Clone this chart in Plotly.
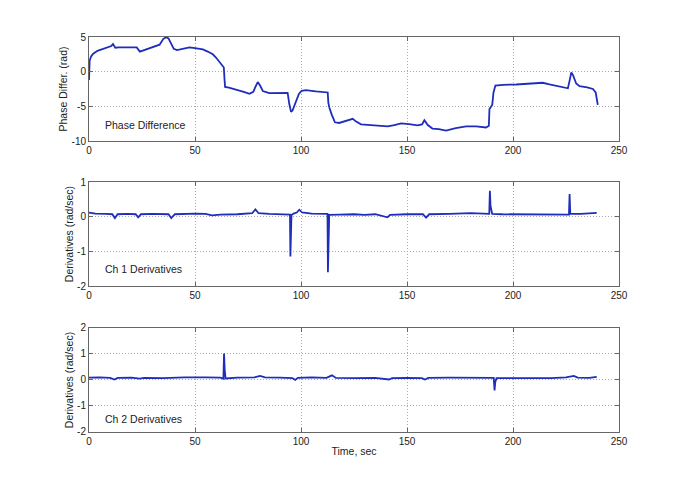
import plotly.graph_objects as go

# phase difference (rad) vs time (sec)
t_phase = [0, 0.3, 1, 2, 4,
           6.5, 9, 10.5, 11.3, 12.4,
           14, 18, 21, 22.5, 24,
           26, 28.6, 31, 33.3, 35,
           36.4, 37.5, 38.5, 40, 41.5,
           44, 47.4, 50, 53.7, 56,
           58.4, 60, 61.5, 63, 63.6,
           63.9, 64.2, 66, 70, 73,
           75.7, 77.5, 78.5, 79.6, 80.7,
           82, 85, 90, 93.7, 94.5,
           95.3, 96, 97.6, 99, 100.3,
           102.3, 107, 112.6, 112.9, 113.4,
           114.5, 116, 118, 120, 122.8,
           124.4, 126, 128.3, 133, 137,
           140.9, 144, 147.2, 151, 155,
           157.1, 158.2, 159.8, 162, 165,
           168.4, 173, 177.9, 182.6, 187.3,
           188.6, 188.9, 190.2, 190.8, 191.7,
           195.2, 201.5, 208, 214, 217.2,
           222, 225.9, 226.7, 227.5, 228.3,
           229.8, 231.4, 235, 237.7, 239,
           240]
phase = [-1.2, 1.6, 2.2, 2.6, 3.0,
         3.25, 3.5, 3.7, 4.0, 3.45,
         3.5, 3.5, 3.6, 3.5, 2.9,
         3.1, 3.4, 3.6, 3.9, 4.7,
         5.0, 4.8, 4.2, 3.3, 3.1,
         3.3, 3.5, 3.4, 3.2, 2.9,
         2.5, 2.0, 1.4, 0.9, 0.6,
         -1.0, -2.2, -2.3, -2.6, -2.9,
         -3.2, -2.9, -2.2, -1.5, -2.0,
         -2.8, -3.1, -3.1, -3.05, -4.7,
         -5.8, -5.6, -4.2, -3.2, -2.75,
         -2.65, -2.85, -3.0, -4.5, -5.2,
         -6.2, -7.3, -7.4, -7.2, -6.9,
         -6.8, -7.2, -7.6, -7.7, -7.75,
         -7.9, -7.7, -7.45, -7.55, -7.75,
         -7.6, -7.0, -7.7, -8.2, -8.3,
         -8.5, -8.15, -7.9, -7.9, -8.05,
         -7.8, -5.4, -4.8, -3.0, -2.0,
         -1.9, -1.85, -1.7, -1.6, -1.85,
         -2.1, -2.4, -1.3, -0.1, -0.5,
         -1.7, -2.1, -2.25, -2.5, -3.0,
         -4.8]

# channel 1 derivatives (rad/sec)
t_ch1 = [0, 3, 8, 11, 12.2,
         13.5, 18, 22, 23.2, 24.5,
         30, 37.5, 38.8, 40.5, 50,
         55, 58, 62, 70, 77,
         78.5, 80, 85, 90, 94.8,
         95.0, 95.2, 95.5, 96.5, 98,
         99.2, 100.5, 105, 112.5, 112.7,
         112.9, 113.3, 118, 125, 130,
         135, 140.8, 142, 150, 157.5,
         159, 160.5, 170, 180, 188.8,
         189.1, 189.4, 190.2, 195, 205,
         215, 220, 226.4, 226.7, 227.0,
         232, 238, 239.5]
ch1 = [0.12, 0.09, 0.08, 0.07, -0.04,
       0.07, 0.08, 0.07, -0.02, 0.07,
       0.08, 0.07, -0.04, 0.07, 0.09,
       0.08, 0.04, 0.06, 0.07, 0.1,
       0.21, 0.1, 0.08, 0.08, 0.06,
       -1.15, -0.6, 0.05, 0.09, 0.12,
       0.2, 0.12, 0.09, 0.08, -1.6,
       -0.8, 0.05, 0.06, 0.07, 0.05,
       0.07, -0.02, 0.05, 0.07, 0.07,
       -0.03, 0.07, 0.08, 0.1, 0.08,
       0.75, 0.3, 0.08, 0.07, 0.07,
       0.06, 0.06, 0.06, 0.65, 0.08,
       0.08, 0.1, 0.11]

# channel 2 derivatives (rad/sec)
t_ch2 = [0, 5, 10, 12, 13.5,
         20, 24, 26, 35, 45,
         55, 62, 63.4, 63.7, 64.0,
         64.4, 70, 78, 80.7, 83,
         90, 96, 97.3, 98.5, 105,
         112, 114.6, 116.5, 125, 135,
         141.5, 143, 150, 157, 158.5,
         160, 170, 180, 190.9, 191.3,
         191.6, 192.2, 200, 210, 218,
         225, 228.7, 230.5, 236, 239.5]
ch2 = [0.09, 0.1, 0.08, 0.02, 0.08,
       0.09, 0.05, 0.08, 0.07, 0.1,
       0.1, 0.09, 0.05, 1.02, 0.4,
       0.06, 0.09, 0.1, 0.16, 0.1,
       0.09, 0.07, 0.0, 0.08, 0.1,
       0.08, 0.18, 0.08, 0.07, 0.08,
       0.02, 0.07, 0.08, 0.07, 0.02,
       0.08, 0.09, 0.09, 0.08, -0.4,
       -0.1, 0.07, 0.07, 0.08, 0.07,
       0.1, 0.16, 0.09, 0.08, 0.12]

assert len(t_phase) == len(phase)
assert len(t_ch1) == len(ch1)
assert len(t_ch2) == len(ch2)

# tick values and labels (plain hyphen, like the original)
x_ticks = [0, 50, 100, 150, 200, 250]
y1_ticks = [-10, -5, 0, 5]
y2_ticks = [-2, -1, 0, 1]
y3_ticks = [-2, -1, 0, 1, 2]

line_col = '#1f2dbb'
font = dict(family='Arial, Liberation Sans, sans-serif', size=10, color='#222')
title_font = dict(font, size=10.5)

fig = go.Figure()
fig.add_trace(go.Scatter(x=t_phase, y=phase, mode='lines', xaxis='x', yaxis='y',
                         line=dict(color=line_col, width=1.8)))
fig.add_trace(go.Scatter(x=t_ch1, y=ch1, mode='lines', xaxis='x2', yaxis='y2',
                         line=dict(color=line_col, width=1.8)))
fig.add_trace(go.Scatter(x=t_ch2, y=ch2, mode='lines', xaxis='x3', yaxis='y3',
                         line=dict(color=line_col, width=1.8)))

ax_common = dict(showline=True, linecolor='#666', linewidth=1, mirror='ticks',
                 ticks='inside', ticklen=4, tickcolor='#666',
                 showgrid=True, gridcolor='#aaa', griddash='1px,2px', gridwidth=1,
                 zeroline=False, tickfont=font, automargin=False)

def yax(ticks, rng, dom, anchor):
    return dict(ax_common, domain=dom, range=rng, anchor=anchor,
                tickvals=ticks, ticktext=[str(v) for v in ticks])

# page body adds ~8px offset, so margins are trimmed on left/top
fig.update_layout(
    width=685, height=486,
    margin=dict(l=81, r=74, t=29, b=62),
    paper_bgcolor='white', plot_bgcolor='white',
    showlegend=False,
    font=font,
    xaxis=dict(ax_common, domain=[0, 1], range=[0, 250], tickvals=x_ticks, anchor='y'),
    yaxis=dict(yax(y1_ticks, [-10, 5], [0.7367, 1.0], 'x'),
               title=dict(text='Phase Differ. (rad)', font=title_font, standoff=1)),
    xaxis2=dict(ax_common, domain=[0, 1], range=[0, 250], tickvals=x_ticks, anchor='y2'),
    yaxis2=dict(yax(y2_ticks, [-2, 1], [0.3696, 0.6329], 'x2'),
                title=dict(text='Derivatives (rad/sec)', font=title_font, standoff=1)),
    xaxis3=dict(ax_common, domain=[0, 1], range=[0, 250], tickvals=x_ticks, anchor='y3',
                title=dict(text='Time, sec', font=title_font, standoff=1)),
    yaxis3=dict(yax(y3_ticks, [-2, 2], [0, 0.2633], 'x3'),
                title=dict(text='Derivatives (rad/sec)', font=title_font, standoff=1)),
)

labels = [('Phase Difference', 'x', 'y', -7.7),
          ('Ch 1 Derivatives', 'x2', 'y2', -1.5),
          ('Ch 2 Derivatives', 'x3', 'y3', -1.5)]
for txt, xr, yr, yv in labels:
    fig.add_annotation(text=txt, x=6.5, y=yv, xref=xr, yref=yr, xanchor='left',
                       showarrow=False, font=title_font)

fig.write_html("out.html")
